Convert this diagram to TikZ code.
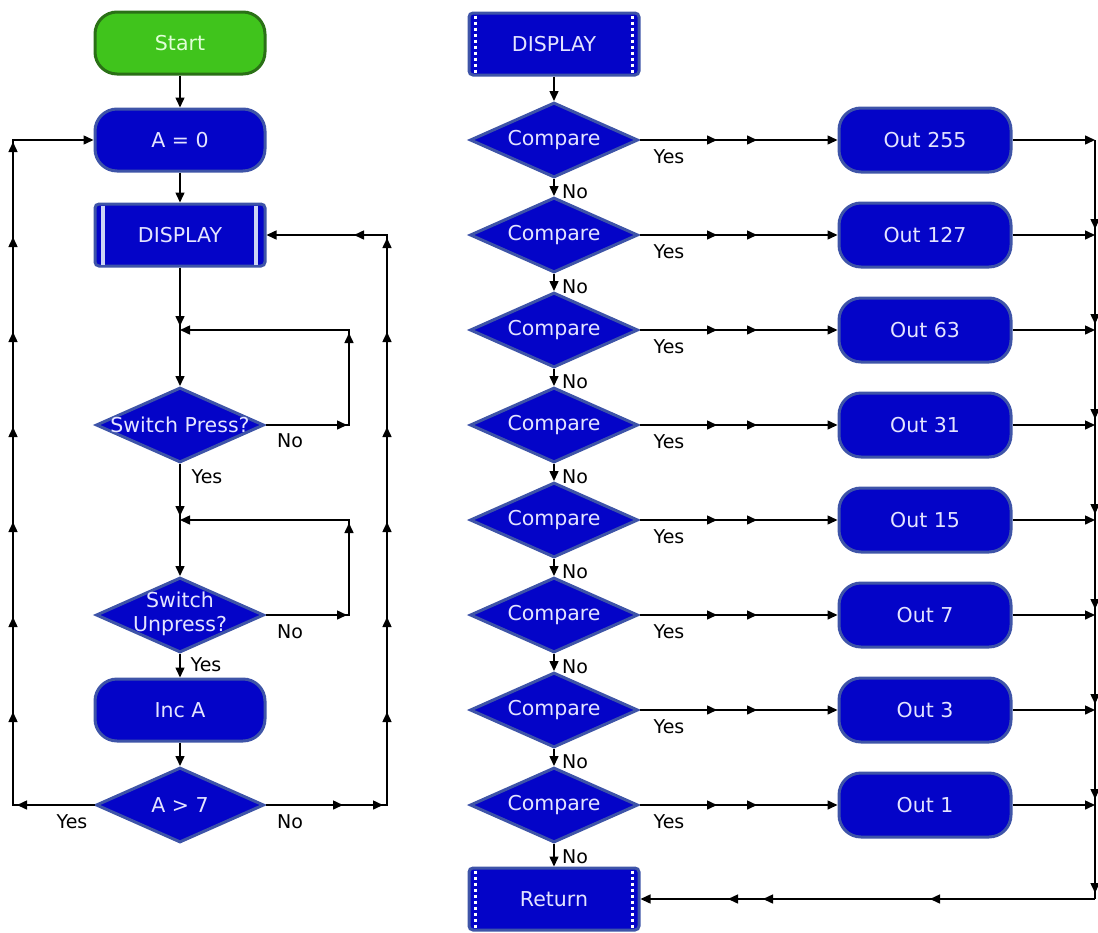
\documentclass[tikz,border=0pt]{standalone}
\usepackage{fontspec}
\setmainfont{DejaVu Sans}
\usetikzlibrary{arrows.meta,shapes.geometric}
\definecolor{fcblue}{RGB}{4,4,200}
\definecolor{fcedge}{RGB}{62,84,168}
\definecolor{fctext}{RGB}{228,228,255}
\definecolor{fcgreen}{RGB}{64,196,28}
\definecolor{fcgedge}{RGB}{42,112,22}
\definecolor{fcgtext}{RGB}{225,255,215}
\definecolor{fcbar}{RGB}{205,212,245}
\newcommand\tipR[2]{\draw[arr] (#1-2,#2) -- (#1,#2);}
\newcommand\tipL[2]{\draw[arr] (#1+2,#2) -- (#1,#2);}
\newcommand\tipU[2]{\draw[arr] (#1,#2+2) -- (#1,#2);}
\newcommand\tipD[2]{\draw[arr] (#1,#2-2) -- (#1,#2);}
\begin{document}
\begin{tikzpicture}[x=1pt,y=-1pt,
  base/.style={fill=fcblue,draw=fcedge,line width=3pt,text=fctext,
    font=\fontsize{20.5}{24}\selectfont,inner sep=0pt},
  term/.style={base,rectangle,rounded corners=22pt,minimum width=170pt,minimum height=62pt},
  startbox/.style={term,fill=fcgreen,draw=fcgedge,text=fcgtext},
  outbox/.style={term,minimum width=172pt,minimum height=64pt},
  subbox/.style={base,rectangle,rounded corners=4pt,minimum width=170pt,minimum height=62pt},
  dia/.style={base,diamond,minimum width=168pt,minimum height=75pt},
  lab/.style={font=\fontsize{19}{22}\selectfont,text=black,inner sep=0pt},
  conn/.style={draw=black,line width=1.5pt},
  arr/.style={conn,-{Triangle[length=10pt,width=9pt]}},
  solidbar/.style={draw=fcbar,line width=4pt},
  dotbar/.style={draw=white,line width=3pt,dash pattern=on 3pt off 3pt}
]
\useasboundingbox (0,0) rectangle (1098,932);

% ---------------- left flowchart ----------------
\node[startbox] (start) at (180,43) {Start};
\node[term] (a0) at (180,140) {A = 0};
\node[subbox] (disp) at (180,235) {DISPLAY};
\draw[solidbar] ([xshift=9pt,yshift=-3pt]disp.north west) -- ([xshift=9pt,yshift=3pt]disp.south west);
\draw[solidbar] ([xshift=-11pt,yshift=-3pt]disp.north east) -- ([xshift=-11pt,yshift=3pt]disp.south east);
\node[dia] (sw1) at (180,425) {\makebox[0pt]{\raisebox{-2pt}{Switch Press?}}};
\node[dia] (sw2) at (180,615) {\makebox[0pt]{\begin{tabular}{@{}c@{}}Switch\\Unpress?\end{tabular}}};
\node[term] (inc) at (180,710) {Inc A};
\node[dia] (agt) at (180,805) {\makebox[0pt]{A {>} 7}};

\coordinate (j1) at (180,330);
\coordinate (j2) at (180,520);
\coordinate (k1) at (349,425);
\coordinate (k1t) at (349,330);
\coordinate (k2) at (349,615);
\coordinate (k2t) at (349,520);
\coordinate (l1) at (13,805);
\coordinate (l2) at (13,140);
\coordinate (m1) at (387,805);
\coordinate (m2) at (387,235);

\draw[arr] (start) -- (a0);
\draw[arr] (a0) -- (disp);
\draw[arr] (disp.south) -- (j1) -- (sw1.north);
\tipD{180}{326}
\draw[arr] (sw1.east) -- (k1) -- (k1t) -- (j1);
\tipR{347}{425} \tipU{349}{333}
\draw[arr] (sw1.south) -- (j2) -- (sw2.north);
\tipD{180}{516}
\draw[arr] (sw2.east) -- (k2) -- (k2t) -- (j2);
\tipR{347}{615} \tipU{349}{523}
\draw[arr] (sw2) -- (inc);
\draw[arr] (inc) -- (agt);
\draw[arr] (agt.west) -- (l1) -- (l2) -- (a0.west);
\tipL{17}{805}
\foreach \yy in {712,617,522,427,332,237,142} {\tipU{13}{\yy}}
\draw[arr] (agt.east) -- (m1) -- (m2) -- (disp.east);
\tipR{343}{805} \tipR{383}{805}
\foreach \yy in {712,617,522,427,332,238} {\tipU{387}{\yy}}
\tipL{354}{235}

\node[lab] (n1) at (290,441) {No};
\node[lab] (y1) at (207,477) {Yes};
\node[lab] (n2) at (290,632) {No};
\node[lab] (y2) at (206,665) {Yes};
\node[lab] (y3) at (72,822) {Yes};
\node[lab] (n3) at (290,822) {No};

% ---------------- right flowchart ----------------
\node[subbox] (dsub) at (554,44) {DISPLAY};
\draw[dotbar] ([xshift=8pt,yshift=-4pt]dsub.north west) -- ([xshift=8pt,yshift=4pt]dsub.south west);
\draw[dotbar] ([xshift=-8pt,yshift=-4pt]dsub.north east) -- ([xshift=-8pt,yshift=4pt]dsub.south east);
\node[subbox] (ret) at (554,899) {Return};
\draw[dotbar] ([xshift=8pt,yshift=-4pt]ret.north west) -- ([xshift=8pt,yshift=4pt]ret.south west);
\draw[dotbar] ([xshift=-8pt,yshift=-4pt]ret.north east) -- ([xshift=-8pt,yshift=4pt]ret.south east);
\coordinate (rb) at (1095,899);

\foreach \v [count=\i from 0] in {255,127,63,31,15,7,3,1} {
  \pgfmathsetmacro\yy{140+95*\i}
  \node[dia] (c\i) at (554,\yy) {\makebox[0pt]{\raisebox{-2pt}{Compare}}};
  \node[outbox] (o\i) at (925,\yy) {Out \v};
  \coordinate (rr\i) at (1095,\yy);
  \draw[arr] (c\i.east) -- (o\i.west);
  \tipR{717}{\yy} \tipR{757}{\yy}
  \draw[arr] (o\i.east) -- (rr\i);
  \node[lab] (ys\i) at (669,\yy+17) {Yes};
  \node[lab] (no\i) at (575,\yy+52) {No};
}
\draw[arr] (dsub) -- (c0);
\foreach \i/\j in {0/1,1/2,2/3,3/4,4/5,5/6,6/7} {
  \draw[arr] (c\i.south) -- (c\j.north);
}
\draw[arr] (c7.south) -- (ret.north);
\draw[conn] (rr0) -- (rb);
\foreach \yy in {229,324,419,514,609,704,799,893} {\tipD{1095}{\yy}}
\draw[arr] (rb) -- (ret.east);
\tipL{930}{899} \tipL{763}{899} \tipL{728}{899}
\end{tikzpicture}
\end{document}
